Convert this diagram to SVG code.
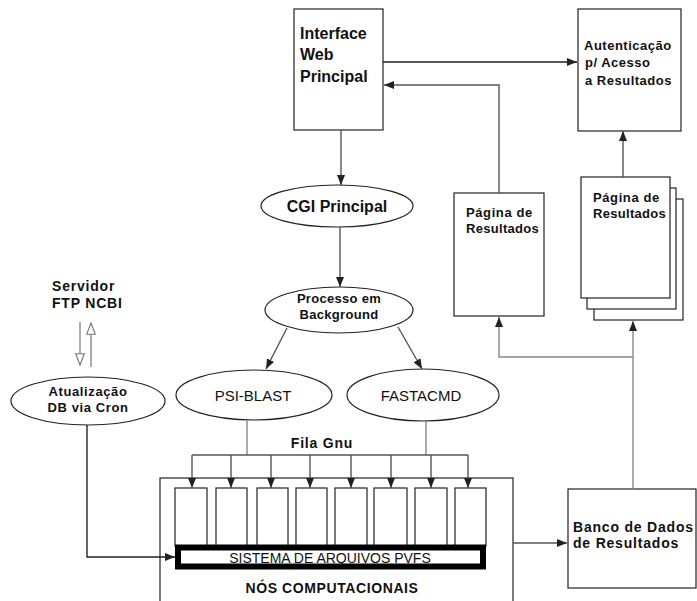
<svg xmlns="http://www.w3.org/2000/svg" width="697" height="601" viewBox="0 0 697 601">
  <style>
    .box { fill: #fff; stroke: #222; stroke-width: 1.2; }
    .ell { fill: #fff; stroke: #222; stroke-width: 1.2; }
    .lbl { font-family: "Liberation Sans", Arial, sans-serif; font-weight: bold; fill: #111; }
    .reg { font-family: "Liberation Sans", Arial, sans-serif; fill: #111; }
    .edge { fill: none; stroke: #555; stroke-width: 1.4; }
    .edge-dark { fill: none; stroke: #222; stroke-width: 1.4; }
    .edge-light { fill: none; stroke: #888; stroke-width: 1.4; }
  </style>
  <defs>
    <marker id="arrow" markerUnits="userSpaceOnUse" markerWidth="10" markerHeight="8" refX="10" refY="4" orient="auto">
      <path d="M0,0 L10,4 L0,8 z" fill="#222"/>
    </marker>
    <marker id="hollow" markerUnits="userSpaceOnUse" markerWidth="13" markerHeight="10" refX="12" refY="5" orient="auto">
      <path d="M0.7,0.7 L12,5 L0.7,9.3 z" fill="#fff" stroke="#777" stroke-width="1.1"/>
    </marker>
  </defs>

  <rect width="697" height="601" fill="#fff"/>

  <g id="interface-web">
    <rect class="box" x="294" y="9" width="89" height="121"/>
    <text class="lbl" font-size="16" x="300" y="39">Interface</text>
    <text class="lbl" font-size="16" x="300" y="60">Web</text>
    <text class="lbl" font-size="16" x="300" y="82">Principal</text>
  </g>

  <g id="autenticacao">
    <rect class="box" x="578" y="9" width="103" height="122"/>
    <text class="lbl" font-size="13" letter-spacing="0.5" x="584" y="50">Autenticação</text>
    <text class="lbl" font-size="13" letter-spacing="0.5" x="585" y="67">p/ Acesso</text>
    <text class="lbl" font-size="13" letter-spacing="0.5" x="585" y="85">a Resultados</text>
  </g>

  <g id="cgi-principal">
    <ellipse class="ell" cx="337" cy="206" rx="76" ry="21"/>
    <text class="lbl" font-size="16" x="337" y="212" text-anchor="middle">CGI Principal</text>
  </g>

  <g id="processo-background">
    <ellipse class="ell" cx="339" cy="310" rx="74" ry="23"/>
    <text class="lbl" font-size="13" letter-spacing="0.3" x="339" y="303" text-anchor="middle">Processo em</text>
    <text class="lbl" font-size="13" letter-spacing="0.3" x="339" y="319" text-anchor="middle">Background</text>
  </g>

  <g id="psi-blast">
    <ellipse class="ell" cx="254" cy="395" rx="78" ry="25"/>
    <text class="reg" font-size="15" x="253" y="401" text-anchor="middle">PSI-BLAST</text>
  </g>

  <g id="fastacmd">
    <ellipse class="ell" cx="423" cy="395" rx="76" ry="26"/>
    <text class="reg" font-size="15" x="421" y="401" text-anchor="middle">FASTACMD</text>
  </g>

  <g id="servidor-ftp">
    <text class="lbl" font-size="14" letter-spacing="0.8" x="52" y="291">Servidor</text>
    <text class="lbl" font-size="14" letter-spacing="0.8" x="52" y="308">FTP NCBI</text>
  </g>

  <g id="atualizacao-db">
    <ellipse class="ell" cx="88" cy="401" rx="77" ry="24"/>
    <text class="lbl" font-size="13" letter-spacing="0.6" x="88" y="396" text-anchor="middle">Atualização</text>
    <text class="lbl" font-size="13" letter-spacing="0.6" x="88" y="412" text-anchor="middle">DB via Cron</text>
  </g>

  <g id="pagina-resultados">
    <rect class="box" x="454" y="193" width="90" height="123"/>
    <text class="lbl" font-size="13" letter-spacing="0.6" x="466" y="217">Página de</text>
    <text class="lbl" font-size="13" letter-spacing="0.3" x="466" y="233">Resultados</text>
  </g>

  <g id="paginas-resultados">
    <rect class="box" x="594" y="199" width="89" height="121"/>
    <rect class="box" x="587" y="188" width="89" height="121"/>
    <rect class="box" x="581" y="177" width="89" height="121"/>
    <text class="lbl" font-size="13" letter-spacing="0.6" x="593" y="202">Página de</text>
    <text class="lbl" font-size="13" letter-spacing="0.3" x="593" y="218">Resultados</text>
  </g>

  <g id="banco-dados">
    <rect class="box" x="568" y="489" width="128" height="99"/>
    <text class="lbl" font-size="14" letter-spacing="0.8" x="573" y="532">Banco de Dados</text>
    <text class="lbl" font-size="14" letter-spacing="0.8" x="573" y="548">de Resultados</text>
  </g>

  <g id="fila-gnu">
    <text class="lbl" font-size="14" letter-spacing="0.8" x="322" y="448" text-anchor="middle">Fila Gnu</text>
  </g>

  <g id="nos-computacionais">
    <rect class="box" x="160" y="478" width="353" height="140"/>
    <rect class="box" x="175" y="488" width="32" height="58"/>
    <rect class="box" x="216" y="488" width="31" height="58"/>
    <rect class="box" x="257" y="488" width="31" height="58"/>
    <rect class="box" x="296" y="488" width="31" height="58"/>
    <rect class="box" x="335" y="488" width="32" height="58"/>
    <rect class="box" x="374" y="488" width="33" height="58"/>
    <rect class="box" x="415" y="488" width="32" height="58"/>
    <rect class="box" x="455" y="488" width="31" height="58"/>
    <text class="lbl" font-size="14" letter-spacing="0.6" x="332" y="593" text-anchor="middle">NÓS COMPUTACIONAIS</text>
  </g>

  <g id="sistema-pvfs">
    <rect x="178" y="547.5" width="305" height="19" fill="#fff" stroke="#000" stroke-width="6"/>
    <text class="reg" font-size="14" x="330" y="562.5" text-anchor="middle">SISTEMA DE ARQUIVOS PVFS</text>
  </g>

  <!-- connectors, drawn last so arrowheads sit on top of the node fills -->
  <g id="connectors">
    <line class="edge-dark" x1="383" y1="62" x2="577" y2="62" marker-end="url(#arrow)"/>
    <path class="edge" d="M499,193 V85 H384" marker-end="url(#arrow)"/>
    <line class="edge" x1="341" y1="130" x2="341" y2="185" marker-end="url(#arrow)"/>
    <line class="edge" x1="340" y1="227" x2="340" y2="287" marker-end="url(#arrow)"/>
    <line class="edge" x1="287" y1="328" x2="266" y2="369" marker-end="url(#arrow)"/>
    <line class="edge" x1="398" y1="327" x2="422" y2="369" marker-end="url(#arrow)"/>
    <line class="edge" x1="623" y1="177" x2="623" y2="131" marker-end="url(#arrow)"/>
    <path class="edge-light" d="M633,489 V321" marker-end="url(#arrow)"/>
    <path class="edge-light" d="M633,357 H499 V317" marker-end="url(#arrow)"/>
    <line class="edge" x1="513" y1="543" x2="567" y2="543" marker-end="url(#arrow)"/>
    <path class="edge-dark" d="M87,425 V557 H175" marker-end="url(#arrow)"/>
    <line class="edge-light" x1="80" y1="322" x2="80" y2="365" marker-end="url(#hollow)"/>
    <line class="edge-light" x1="91" y1="367" x2="91" y2="323" marker-end="url(#hollow)"/>
    <!-- queue fan-out to the compute nodes -->
    <line class="edge-light" x1="247" y1="420" x2="247" y2="455"/>
    <line class="edge-light" x1="426" y1="421" x2="426" y2="455"/>
    <line class="edge" x1="192" y1="455" x2="468" y2="455"/>
    <line class="edge" x1="192" y1="455" x2="192" y2="488" marker-end="url(#arrow)"/>
    <line class="edge" x1="231" y1="455" x2="231" y2="488" marker-end="url(#arrow)"/>
    <line class="edge" x1="271" y1="455" x2="271" y2="488" marker-end="url(#arrow)"/>
    <line class="edge" x1="310" y1="455" x2="310" y2="488" marker-end="url(#arrow)"/>
    <line class="edge" x1="351" y1="455" x2="351" y2="488" marker-end="url(#arrow)"/>
    <line class="edge" x1="391" y1="455" x2="391" y2="488" marker-end="url(#arrow)"/>
    <line class="edge" x1="431" y1="455" x2="431" y2="488" marker-end="url(#arrow)"/>
    <line class="edge" x1="468" y1="455" x2="468" y2="488" marker-end="url(#arrow)"/>
  </g>
</svg>
